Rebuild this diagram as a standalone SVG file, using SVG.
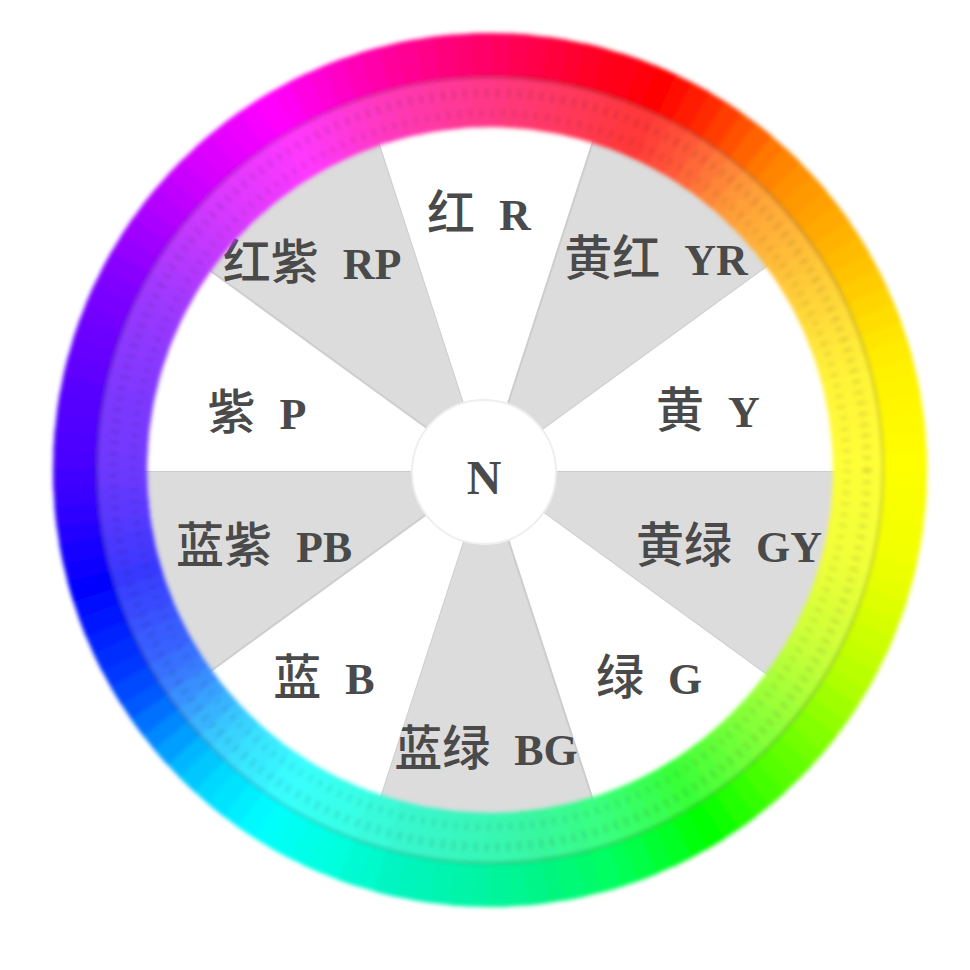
<svg xmlns="http://www.w3.org/2000/svg" xmlns:xlink="http://www.w3.org/1999/xlink" width="970" height="970" viewBox="0 0 970 970">
<style>
.g{fill:#dcdcdc;stroke:#cdcdcd;stroke-width:2}
.w{fill:#ffffff}
.lb{font-family:"Liberation Serif","Noto Sans CJK SC",serif;font-size:48px;font-weight:500;fill:#4a4a4a;text-anchor:middle}
.lt{font-size:44px;font-weight:bold}
</style>
<defs>
<circle id="seg" cx="490" cy="470" r="390" fill="none" stroke-width="94" stroke-dasharray="35.5 3000"/>
<circle id="hs" cx="490" cy="470" r="390" fill="none" stroke-width="94" stroke-dasharray="18.5 3000"/>
<filter id="soft" x="-5%" y="-5%" width="110%" height="110%"><feGaussianBlur stdDeviation="2.2"/></filter>
</defs>
<rect width="970" height="970" fill="#ffffff"/>
<circle cx="490" cy="470" r="350" fill="#ffffff"/>
<g id="sector-GY"><path class="g" d="M486 471L836 471A350 350 0 0 1 769.15 676.73Z"/><text class="lb" x="729" y="562">黄绿 <tspan class="lt" dx="12">GY</tspan></text></g>
<g id="sector-G"><path class="w" d="M486 471L769.15 676.73A350 350 0 0 1 594.15 803.89Z"/><text class="lb" x="649" y="694">绿 <tspan class="lt" dx="12">G</tspan></text></g>
<g id="sector-BG"><path class="g" d="M486 471L594.15 803.89A350 350 0 0 1 377.85 803.89Z"/><text class="lb" x="486" y="765">蓝绿 <tspan class="lt" dx="12">BG</tspan></text></g>
<g id="sector-B"><path class="w" d="M486 471L377.85 803.89A350 350 0 0 1 202.85 676.73Z"/><text class="lb" x="324" y="694">蓝 <tspan class="lt" dx="12">B</tspan></text></g>
<g id="sector-PB"><path class="g" d="M486 471L202.85 676.73A350 350 0 0 1 136 471Z"/><text class="lb" x="264" y="562">蓝紫 <tspan class="lt" dx="12">PB</tspan></text></g>
<g id="sector-P"><path class="w" d="M486 471L136 471A350 350 0 0 1 202.85 265.27Z"/><text class="lb" x="257" y="429">紫 <tspan class="lt" dx="12">P</tspan></text></g>
<g id="sector-RP"><path class="g" d="M486 471L202.85 265.27A350 350 0 0 1 377.85 138.11Z"/><text class="lb" x="312" y="279">红紫 <tspan class="lt" dx="12">RP</tspan></text></g>
<g id="sector-R"><path class="w" d="M486 471L377.85 138.11A350 350 0 0 1 594.15 138.11Z"/><text class="lb" x="479" y="230">红 <tspan class="lt" dx="12">R</tspan></text></g>
<g id="sector-YR"><path class="g" d="M486 471L594.15 138.11A350 350 0 0 1 769.15 265.27Z"/><text class="lb" x="656" y="275">黄红 <tspan class="lt" dx="12">YR</tspan></text></g>
<g id="sector-Y"><path class="w" d="M486 471L769.15 265.27A350 350 0 0 1 836 471Z"/><text class="lb" x="708" y="427">黄 <tspan class="lt" dx="12">Y</tspan></text></g>
<g id="ring" filter="url(#soft)">
<use xlink:href="#seg" transform="rotate(0 490 470)" stroke="hsl(61,100%,50%)"/>
<use xlink:href="#seg" transform="rotate(5 490 470)" stroke="hsl(62,100%,50%)"/>
<use xlink:href="#seg" transform="rotate(10 490 470)" stroke="hsl(63,100%,50%)"/>
<use xlink:href="#seg" transform="rotate(15 490 470)" stroke="hsl(66,100%,50%)"/>
<use xlink:href="#seg" transform="rotate(20 490 470)" stroke="hsl(70,100%,50%)"/>
<use xlink:href="#seg" transform="rotate(25 490 470)" stroke="hsl(74,100%,50%)"/>
<use xlink:href="#seg" transform="rotate(30 490 470)" stroke="hsl(79,100%,50%)"/>
<use xlink:href="#seg" transform="rotate(35 490 470)" stroke="hsl(86,100%,50%)"/>
<use xlink:href="#seg" transform="rotate(40 490 470)" stroke="hsl(93,100%,50%)"/>
<use xlink:href="#seg" transform="rotate(45 490 470)" stroke="hsl(100,100%,50%)"/>
<use xlink:href="#seg" transform="rotate(50 490 470)" stroke="hsl(108,100%,50%)"/>
<use xlink:href="#seg" transform="rotate(55 490 470)" stroke="hsl(116,100%,50%)"/>
<use xlink:href="#seg" transform="rotate(60 490 470)" stroke="hsl(124,100%,50%)"/>
<use xlink:href="#seg" transform="rotate(65 490 470)" stroke="hsl(132,100%,50%)"/>
<use xlink:href="#seg" transform="rotate(70 490 470)" stroke="hsl(140,100%,50%)"/>
<use xlink:href="#seg" transform="rotate(75 490 470)" stroke="hsl(146,100%,49%)"/>
<use xlink:href="#seg" transform="rotate(80 490 470)" stroke="hsl(151,100%,48%)"/>
<use xlink:href="#seg" transform="rotate(85 490 470)" stroke="hsl(156,100%,48%)"/>
<use xlink:href="#seg" transform="rotate(90 490 470)" stroke="hsl(160,100%,48%)"/>
<use xlink:href="#seg" transform="rotate(95 490 470)" stroke="hsl(163,100%,48%)"/>
<use xlink:href="#seg" transform="rotate(100 490 470)" stroke="hsl(166,100%,48%)"/>
<use xlink:href="#seg" transform="rotate(105 490 470)" stroke="hsl(169,100%,49%)"/>
<use xlink:href="#seg" transform="rotate(110 490 470)" stroke="hsl(172,100%,50%)"/>
<use xlink:href="#seg" transform="rotate(115 490 470)" stroke="hsl(175,100%,50%)"/>
<use xlink:href="#seg" transform="rotate(120 490 470)" stroke="hsl(179,100%,50%)"/>
<use xlink:href="#seg" transform="rotate(125 490 470)" stroke="hsl(184,100%,50%)"/>
<use xlink:href="#seg" transform="rotate(130 490 470)" stroke="hsl(189,100%,50%)"/>
<use xlink:href="#seg" transform="rotate(135 490 470)" stroke="hsl(197,100%,50%)"/>
<use xlink:href="#seg" transform="rotate(140 490 470)" stroke="hsl(208,100%,50%)"/>
<use xlink:href="#seg" transform="rotate(145 490 470)" stroke="hsl(219,100%,50%)"/>
<use xlink:href="#seg" transform="rotate(150 490 470)" stroke="hsl(227,100%,50%)"/>
<use xlink:href="#seg" transform="rotate(155 490 470)" stroke="hsl(232,100%,50%)"/>
<use xlink:href="#seg" transform="rotate(160 490 470)" stroke="hsl(237,100%,50%)"/>
<use xlink:href="#seg" transform="rotate(165 490 470)" stroke="hsl(243,100%,50%)"/>
<use xlink:href="#seg" transform="rotate(170 490 470)" stroke="hsl(248,100%,50%)"/>
<use xlink:href="#seg" transform="rotate(175 490 470)" stroke="hsl(253,100%,50%)"/>
<use xlink:href="#seg" transform="rotate(180 490 470)" stroke="hsl(257,100%,50%)"/>
<use xlink:href="#seg" transform="rotate(185 490 470)" stroke="hsl(259,100%,50%)"/>
<use xlink:href="#seg" transform="rotate(190 490 470)" stroke="hsl(261,100%,50%)"/>
<use xlink:href="#seg" transform="rotate(195 490 470)" stroke="hsl(264,100%,50%)"/>
<use xlink:href="#seg" transform="rotate(200 490 470)" stroke="hsl(267,100%,50%)"/>
<use xlink:href="#seg" transform="rotate(205 490 470)" stroke="hsl(270,100%,50%)"/>
<use xlink:href="#seg" transform="rotate(210 490 470)" stroke="hsl(275,100%,50%)"/>
<use xlink:href="#seg" transform="rotate(215 490 470)" stroke="hsl(280,100%,50%)"/>
<use xlink:href="#seg" transform="rotate(220 490 470)" stroke="hsl(285,100%,50%)"/>
<use xlink:href="#seg" transform="rotate(225 490 470)" stroke="hsl(290,100%,50%)"/>
<use xlink:href="#seg" transform="rotate(230 490 470)" stroke="hsl(294,100%,50%)"/>
<use xlink:href="#seg" transform="rotate(235 490 470)" stroke="hsl(298,100%,50%)"/>
<use xlink:href="#seg" transform="rotate(240 490 470)" stroke="hsl(303,100%,50%)"/>
<use xlink:href="#seg" transform="rotate(245 490 470)" stroke="hsl(310,100%,50%)"/>
<use xlink:href="#seg" transform="rotate(250 490 470)" stroke="hsl(317,100%,50%)"/>
<use xlink:href="#seg" transform="rotate(255 490 470)" stroke="hsl(323,100%,50%)"/>
<use xlink:href="#seg" transform="rotate(260 490 470)" stroke="hsl(328,100%,50%)"/>
<use xlink:href="#seg" transform="rotate(265 490 470)" stroke="hsl(333,100%,50%)"/>
<use xlink:href="#seg" transform="rotate(270 490 470)" stroke="hsl(338,100%,50%)"/>
<use xlink:href="#seg" transform="rotate(275 490 470)" stroke="hsl(343,100%,50%)"/>
<use xlink:href="#seg" transform="rotate(280 490 470)" stroke="hsl(348,100%,50%)"/>
<use xlink:href="#seg" transform="rotate(285 490 470)" stroke="hsl(353,100%,50%)"/>
<use xlink:href="#seg" transform="rotate(290 490 470)" stroke="hsl(358,100%,50%)"/>
<use xlink:href="#seg" transform="rotate(295 490 470)" stroke="hsl(3,100%,50%)"/>
<use xlink:href="#seg" transform="rotate(300 490 470)" stroke="hsl(10,100%,50%)"/>
<use xlink:href="#seg" transform="rotate(305 490 470)" stroke="hsl(19,100%,50%)"/>
<use xlink:href="#seg" transform="rotate(310 490 470)" stroke="hsl(28,100%,50%)"/>
<use xlink:href="#seg" transform="rotate(315 490 470)" stroke="hsl(34,100%,50%)"/>
<use xlink:href="#seg" transform="rotate(320 490 470)" stroke="hsl(38,100%,50%)"/>
<use xlink:href="#seg" transform="rotate(325 490 470)" stroke="hsl(42,100%,50%)"/>
<use xlink:href="#seg" transform="rotate(330 490 470)" stroke="hsl(46,100%,50%)"/>
<use xlink:href="#seg" transform="rotate(335 490 470)" stroke="hsl(50,100%,50%)"/>
<use xlink:href="#seg" transform="rotate(340 490 470)" stroke="hsl(54,100%,50%)"/>
<use xlink:href="#seg" transform="rotate(345 490 470)" stroke="hsl(57,100%,50%)"/>
<use xlink:href="#seg" transform="rotate(350 490 470)" stroke="hsl(58,100%,50%)"/>
<use xlink:href="#seg" transform="rotate(355 490 470)" stroke="hsl(59,100%,50%)"/>
<use xlink:href="#hs" transform="rotate(2.5 490 470)" stroke="hsl(61.5,100%,50%)"/>
<use xlink:href="#hs" transform="rotate(7.5 490 470)" stroke="hsl(62.5,100%,50%)"/>
<use xlink:href="#hs" transform="rotate(12.5 490 470)" stroke="hsl(64.5,100%,50%)"/>
<use xlink:href="#hs" transform="rotate(17.5 490 470)" stroke="hsl(68,100%,50%)"/>
<use xlink:href="#hs" transform="rotate(22.5 490 470)" stroke="hsl(72,100%,50%)"/>
<use xlink:href="#hs" transform="rotate(27.5 490 470)" stroke="hsl(76.5,100%,50%)"/>
<use xlink:href="#hs" transform="rotate(32.5 490 470)" stroke="hsl(82.5,100%,50%)"/>
<use xlink:href="#hs" transform="rotate(37.5 490 470)" stroke="hsl(89.5,100%,50%)"/>
<use xlink:href="#hs" transform="rotate(42.5 490 470)" stroke="hsl(96.5,100%,50%)"/>
<use xlink:href="#hs" transform="rotate(47.5 490 470)" stroke="hsl(104,100%,50%)"/>
<use xlink:href="#hs" transform="rotate(52.5 490 470)" stroke="hsl(112,100%,50%)"/>
<use xlink:href="#hs" transform="rotate(57.5 490 470)" stroke="hsl(120,100%,50%)"/>
<use xlink:href="#hs" transform="rotate(62.5 490 470)" stroke="hsl(128,100%,50%)"/>
<use xlink:href="#hs" transform="rotate(67.5 490 470)" stroke="hsl(136,100%,50%)"/>
<use xlink:href="#hs" transform="rotate(72.5 490 470)" stroke="hsl(143,100%,50%)"/>
<use xlink:href="#hs" transform="rotate(77.5 490 470)" stroke="hsl(148.5,100%,49%)"/>
<use xlink:href="#hs" transform="rotate(82.5 490 470)" stroke="hsl(153.5,100%,48%)"/>
<use xlink:href="#hs" transform="rotate(87.5 490 470)" stroke="hsl(158,100%,48%)"/>
<use xlink:href="#hs" transform="rotate(92.5 490 470)" stroke="hsl(161.5,100%,48%)"/>
<use xlink:href="#hs" transform="rotate(97.5 490 470)" stroke="hsl(164.5,100%,48%)"/>
<use xlink:href="#hs" transform="rotate(102.5 490 470)" stroke="hsl(167.5,100%,48%)"/>
<use xlink:href="#hs" transform="rotate(107.5 490 470)" stroke="hsl(170.5,100%,49%)"/>
<use xlink:href="#hs" transform="rotate(112.5 490 470)" stroke="hsl(173.5,100%,50%)"/>
<use xlink:href="#hs" transform="rotate(117.5 490 470)" stroke="hsl(177,100%,50%)"/>
<use xlink:href="#hs" transform="rotate(122.5 490 470)" stroke="hsl(181.5,100%,50%)"/>
<use xlink:href="#hs" transform="rotate(127.5 490 470)" stroke="hsl(186.5,100%,50%)"/>
<use xlink:href="#hs" transform="rotate(132.5 490 470)" stroke="hsl(193,100%,50%)"/>
<use xlink:href="#hs" transform="rotate(137.5 490 470)" stroke="hsl(202.5,100%,50%)"/>
<use xlink:href="#hs" transform="rotate(142.5 490 470)" stroke="hsl(213.5,100%,50%)"/>
<use xlink:href="#hs" transform="rotate(147.5 490 470)" stroke="hsl(223,100%,50%)"/>
<use xlink:href="#hs" transform="rotate(152.5 490 470)" stroke="hsl(229.5,100%,50%)"/>
<use xlink:href="#hs" transform="rotate(157.5 490 470)" stroke="hsl(234.5,100%,50%)"/>
<use xlink:href="#hs" transform="rotate(162.5 490 470)" stroke="hsl(240,100%,50%)"/>
<use xlink:href="#hs" transform="rotate(167.5 490 470)" stroke="hsl(245.5,100%,50%)"/>
<use xlink:href="#hs" transform="rotate(172.5 490 470)" stroke="hsl(250.5,100%,50%)"/>
<use xlink:href="#hs" transform="rotate(177.5 490 470)" stroke="hsl(255,100%,50%)"/>
<use xlink:href="#hs" transform="rotate(182.5 490 470)" stroke="hsl(258,100%,50%)"/>
<use xlink:href="#hs" transform="rotate(187.5 490 470)" stroke="hsl(260,100%,50%)"/>
<use xlink:href="#hs" transform="rotate(192.5 490 470)" stroke="hsl(262.5,100%,50%)"/>
<use xlink:href="#hs" transform="rotate(197.5 490 470)" stroke="hsl(265.5,100%,50%)"/>
<use xlink:href="#hs" transform="rotate(202.5 490 470)" stroke="hsl(268.5,100%,50%)"/>
<use xlink:href="#hs" transform="rotate(207.5 490 470)" stroke="hsl(272.5,100%,50%)"/>
<use xlink:href="#hs" transform="rotate(212.5 490 470)" stroke="hsl(277.5,100%,50%)"/>
<use xlink:href="#hs" transform="rotate(217.5 490 470)" stroke="hsl(282.5,100%,50%)"/>
<use xlink:href="#hs" transform="rotate(222.5 490 470)" stroke="hsl(287.5,100%,50%)"/>
<use xlink:href="#hs" transform="rotate(227.5 490 470)" stroke="hsl(292,100%,50%)"/>
<use xlink:href="#hs" transform="rotate(232.5 490 470)" stroke="hsl(296,100%,50%)"/>
<use xlink:href="#hs" transform="rotate(237.5 490 470)" stroke="hsl(300.5,100%,50%)"/>
<use xlink:href="#hs" transform="rotate(242.5 490 470)" stroke="hsl(306.5,100%,50%)"/>
<use xlink:href="#hs" transform="rotate(247.5 490 470)" stroke="hsl(313.5,100%,50%)"/>
<use xlink:href="#hs" transform="rotate(252.5 490 470)" stroke="hsl(320,100%,50%)"/>
<use xlink:href="#hs" transform="rotate(257.5 490 470)" stroke="hsl(325.5,100%,50%)"/>
<use xlink:href="#hs" transform="rotate(262.5 490 470)" stroke="hsl(330.5,100%,50%)"/>
<use xlink:href="#hs" transform="rotate(267.5 490 470)" stroke="hsl(335.5,100%,50%)"/>
<use xlink:href="#hs" transform="rotate(272.5 490 470)" stroke="hsl(340.5,100%,50%)"/>
<use xlink:href="#hs" transform="rotate(277.5 490 470)" stroke="hsl(345.5,100%,50%)"/>
<use xlink:href="#hs" transform="rotate(282.5 490 470)" stroke="hsl(350.5,100%,50%)"/>
<use xlink:href="#hs" transform="rotate(287.5 490 470)" stroke="hsl(355.5,100%,50%)"/>
<use xlink:href="#hs" transform="rotate(292.5 490 470)" stroke="hsl(0.5,100%,50%)"/>
<use xlink:href="#hs" transform="rotate(297.5 490 470)" stroke="hsl(6.5,100%,50%)"/>
<use xlink:href="#hs" transform="rotate(302.5 490 470)" stroke="hsl(14.5,100%,50%)"/>
<use xlink:href="#hs" transform="rotate(307.5 490 470)" stroke="hsl(23.5,100%,50%)"/>
<use xlink:href="#hs" transform="rotate(312.5 490 470)" stroke="hsl(31,100%,50%)"/>
<use xlink:href="#hs" transform="rotate(317.5 490 470)" stroke="hsl(36,100%,50%)"/>
<use xlink:href="#hs" transform="rotate(322.5 490 470)" stroke="hsl(40,100%,50%)"/>
<use xlink:href="#hs" transform="rotate(327.5 490 470)" stroke="hsl(44,100%,50%)"/>
<use xlink:href="#hs" transform="rotate(332.5 490 470)" stroke="hsl(48,100%,50%)"/>
<use xlink:href="#hs" transform="rotate(337.5 490 470)" stroke="hsl(52,100%,50%)"/>
<use xlink:href="#hs" transform="rotate(342.5 490 470)" stroke="hsl(55.5,100%,50%)"/>
<use xlink:href="#hs" transform="rotate(347.5 490 470)" stroke="hsl(57.5,100%,50%)"/>
<use xlink:href="#hs" transform="rotate(352.5 490 470)" stroke="hsl(58.5,100%,50%)"/>
<use xlink:href="#hs" transform="rotate(357.5 490 470)" stroke="hsl(60,100%,50%)"/>
<circle cx="490" cy="470" r="368" fill="none" stroke="#ffffff" stroke-opacity="0.22" stroke-width="50"/>
<circle cx="490" cy="470" r="357" fill="none" stroke="#000000" stroke-opacity="0.15" stroke-width="8" stroke-dasharray="2 9"/>
<circle cx="490" cy="470" r="377" fill="none" stroke="#000000" stroke-opacity="0.13" stroke-width="9" stroke-dasharray="3 8"/>
<circle cx="490" cy="470" r="393" fill="none" stroke="#222222" stroke-opacity="0.38" stroke-width="1.6"/>
</g>
<g id="node-N">
<circle cx="484" cy="472" r="72" fill="#ffffff" stroke="#eeeeee" stroke-width="2"/>
<text class="lb" x="484" y="494" style="font-weight:bold">N</text>
</g>
</svg>
